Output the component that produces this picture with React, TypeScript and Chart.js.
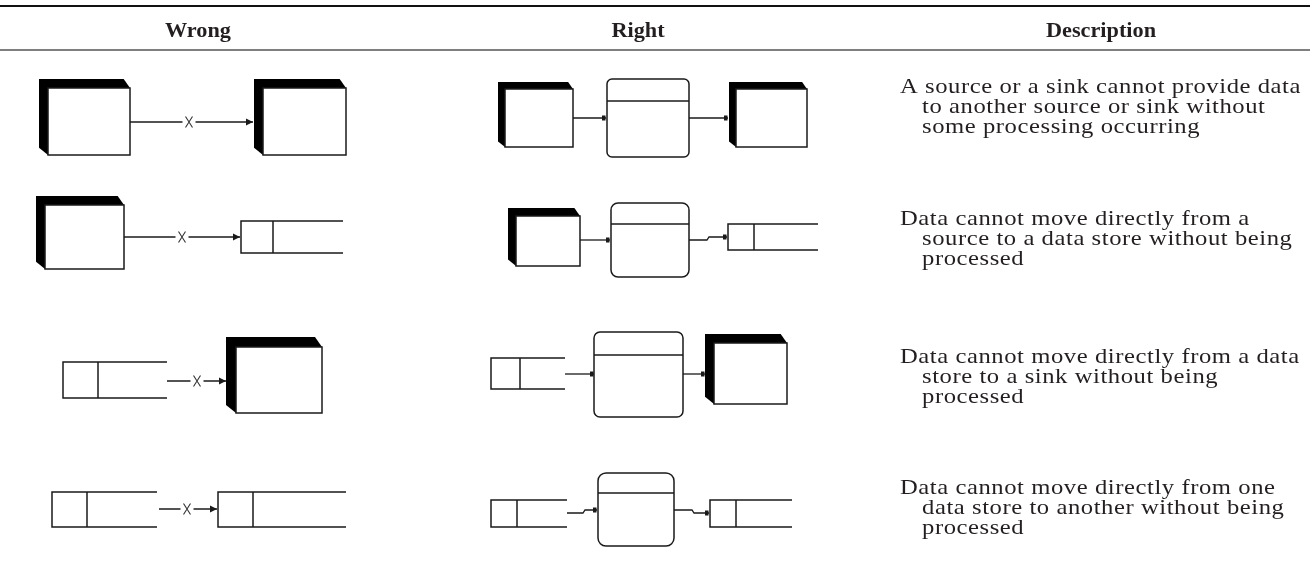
import React, { useEffect, useRef } from 'react';
import { Chart, registerables } from 'chart.js';
Chart.register(...registerables);

const W = 1310;
const H = 571;

// Table header
const columnHeaders = ['Wrong', 'Right', 'Description'];
const headerCentersX = [198, 638, 1101];
const headerBaselineY = 37;
const topRuleY = 6;
const headerRuleY = 50;

// Description column
const descriptionRows = [
  ['A source or a sink cannot provide data', 'to another source or sink without', 'some processing occurring'],
  ['Data cannot move directly from a', 'source to a data store without being', 'processed'],
  ['Data cannot move directly from a data', 'store to a sink without being', 'processed'],
  ['Data cannot move directly from one', 'data store to another without being', 'processed'],
];
const descriptionFirstBaselineY = [93, 225, 363, 494];
const descriptionX = 900;
const descriptionIndentX = 922;
const descriptionLineStep = 19.8;

// Source / sink boxes: [x0, y0, x1, y1, shadow depth]
const entityBoxes = [
  [39, 79, 130, 155, 9], [254, 79, 346, 155, 9], [498, 82, 573, 147, 7], [729, 82, 807, 147, 7],
  [36, 196, 124, 269, 9], [508, 208, 580, 266, 8],
  [226, 337, 322, 413, 10], [705, 334, 787, 404, 9],
];

// Process boxes: [x0, y0, x1, y1, header line y, corner radius]
const processBoxes = [
  [607, 79, 689, 157, 101, 5],
  [611, 203, 689, 277, 224, 7],
  [594, 332, 683, 417, 355, 6],
  [598, 473, 674, 546, 493, 8],
];

// Data stores: [x0, y0, x1, y1, divider x]
const dataStores = [
  [241, 221, 343, 253, 273], [728, 224, 818, 250, 754],
  [63, 362, 167, 398, 98], [491, 358, 565, 389, 520],
  [52, 492, 157, 527, 87], [218, 492, 346, 527, 253],
  [491, 500, 567, 527, 517], [710, 500, 792, 527, 736],
];

// Data flows: polyline points, end marker and (for wrong flows) the cross position
const flowPoints = [
  [[130, 122], [253, 122]],
  [[573, 118], [606, 118]],
  [[689, 118], [728, 118]],
  [[124, 237], [240, 237]],
  [[580, 240], [610, 240]],
  [[689, 240], [707, 240], [709, 237], [727, 237]],
  [[167, 381], [226, 381]],
  [[565, 374], [594, 374]],
  [[683, 374], [705, 374]],
  [[159, 509], [217, 509]],
  [[567, 513], [583, 513], [585, 510], [597, 510]],
  [[674, 510], [692, 510], [694, 513], [709, 513]],
];
const flowEnds = ['arrow', 'dot', 'dot', 'arrow', 'dot', 'dot', 'arrow', 'dot', 'dot', 'arrow', 'dot', 'dot'];
const flowCrossX = [189, null, null, 182, null, null, 197, null, null, 187, null, null];

const INK = '#1a1a1a';
const TEXT = '#231f20';

const diagramPlugin = {
  id: 'dfdTable',
  afterDatasetsDraw(chart: any) {
    const ctx = chart.ctx as CanvasRenderingContext2D;
    const xs = chart.scales.x;
    const ys = chart.scales.y;
    const px = (v: number) => xs.getPixelForValue(v);
    const py = (v: number) => ys.getPixelForValue(v);
    const dx = (v: number) => px(v) - px(0);
    const dy = (v: number) => py(v) - py(0);

    ctx.save();
    // rules
    ctx.strokeStyle = '#111';
    ctx.lineWidth = 2;
    ctx.beginPath();
    ctx.moveTo(px(0), py(topRuleY));
    ctx.lineTo(px(W), py(topRuleY));
    ctx.stroke();
    ctx.strokeStyle = '#555';
    ctx.lineWidth = 1.3;
    ctx.beginPath();
    ctx.moveTo(px(0), py(headerRuleY));
    ctx.lineTo(px(W), py(headerRuleY));
    ctx.stroke();

    // headers
    ctx.fillStyle = TEXT;
    ctx.textAlign = 'left';
    ctx.textBaseline = 'alphabetic';
    ctx.font = 'bold 21px "Liberation Serif", serif';
    (ctx as any).letterSpacing = '0px';
    columnHeaders.forEach((h, i) => {
      const sx = 1.06;
      const w = ctx.measureText(h).width * sx;
      ctx.save();
      ctx.translate(px(headerCentersX[i]) - w / 2, py(headerBaselineY));
      ctx.scale(sx, 1);
      ctx.fillText(h, 0, 0);
      ctx.restore();
    });

    // descriptions
    ctx.font = '22px "Liberation Serif", serif';
    (ctx as any).letterSpacing = '0.5px';
    descriptionRows.forEach((lines, r) => {
      lines.forEach((line, j) => {
        ctx.save();
        ctx.translate(px(j === 0 ? descriptionX : descriptionIndentX), py(descriptionFirstBaselineY[r] + j * descriptionLineStep));
        ctx.scale(1.12, 1);
        ctx.fillText(line, 0, 0);
        ctx.restore();
      });
    });
    (ctx as any).letterSpacing = '0px';

    // cross marks and end markers on flows
    flowPoints.forEach((pts, i) => {
      const last = pts[pts.length - 1];
      const ex = px(last[0]);
      const ey = py(last[1]);
      ctx.fillStyle = INK;
      if (flowEnds[i] === 'arrow') {
        ctx.beginPath();
        ctx.moveTo(ex - 7, ey - 3.5);
        ctx.lineTo(ex, ey);
        ctx.lineTo(ex - 7, ey + 3.5);
        ctx.closePath();
        ctx.fill();
      } else {
        ctx.fillRect(ex - 4, ey - 2.5, 3.5, 5);
      }
      const cx = flowCrossX[i];
      if (cx != null) {
        const cxp = px(cx);
        const cyp = py(pts[0][1]);
        ctx.fillStyle = '#fff';
        ctx.fillRect(cxp - 6.5, cyp - 2, 13, 4);
        ctx.strokeStyle = '#333';
        ctx.lineWidth = 1.1;
        ctx.beginPath();
        ctx.moveTo(cxp - 3.5, cyp - 5.5);
        ctx.lineTo(cxp + 3.5, cyp + 5.5);
        ctx.moveTo(cxp + 3.5, cyp - 5.5);
        ctx.lineTo(cxp - 3.5, cyp + 5.5);
        ctx.stroke();
      }
    });

    // source / sink boxes
    entityBoxes.forEach(([x0, y0, x1, y1, d]) => {
      const X0 = px(x0), Y0 = py(y0), X1 = px(x1), Y1 = py(y1);
      const D = dx(d), DY = dy(d);
      ctx.fillStyle = '#000';
      ctx.beginPath();
      ctx.moveTo(X0, Y0);
      ctx.lineTo(X1 - D * 0.7, Y0);
      ctx.lineTo(X1, Y0 + DY);
      ctx.lineTo(X1, Y1);
      ctx.lineTo(X0 + D, Y1);
      ctx.lineTo(X0, Y1 - DY * 0.8);
      ctx.closePath();
      ctx.fill();
      ctx.fillStyle = '#fff';
      ctx.fillRect(X0 + D, Y0 + DY, X1 - X0 - D, Y1 - Y0 - DY);
      ctx.strokeStyle = INK;
      ctx.lineWidth = 1.5;
      ctx.strokeRect(X0 + D, Y0 + DY, X1 - X0 - D, Y1 - Y0 - DY);
    });

    // process boxes
    processBoxes.forEach(([x0, y0, x1, y1, hy, rad]) => {
      const X0 = px(x0), Y0 = py(y0), X1 = px(x1), Y1 = py(y1);
      ctx.fillStyle = '#fff';
      ctx.strokeStyle = INK;
      ctx.lineWidth = 1.5;
      ctx.beginPath();
      ctx.roundRect(X0, Y0, X1 - X0, Y1 - Y0, dx(rad));
      ctx.fill();
      ctx.stroke();
      ctx.beginPath();
      ctx.moveTo(X0, py(hy));
      ctx.lineTo(X1, py(hy));
      ctx.stroke();
    });

    // data stores
    dataStores.forEach(([x0, y0, x1, y1, xd]) => {
      const X0 = px(x0), Y0 = py(y0), X1 = px(x1), Y1 = py(y1), XD = px(xd);
      ctx.strokeStyle = INK;
      ctx.lineWidth = 1.5;
      ctx.beginPath();
      ctx.moveTo(X1, Y0);
      ctx.lineTo(X0, Y0);
      ctx.lineTo(X0, Y1);
      ctx.lineTo(X1, Y1);
      ctx.moveTo(XD, Y0);
      ctx.lineTo(XD, Y1);
      ctx.stroke();
    });
    ctx.restore();
  },
};

export default function App() {
  const ref = useRef<HTMLCanvasElement | null>(null);
  useEffect(() => {
    if (!ref.current) return;
    const chart = new Chart(ref.current, {
      type: 'scatter',
      data: {
        datasets: flowPoints.map((pts) => ({
          data: pts.map(([x, y]) => ({ x, y })),
          showLine: true,
          borderColor: INK,
          borderWidth: 1.3,
          pointRadius: 0,
          fill: false,
          tension: 0,
        })),
      },
      options: {
        responsive: false,
        animation: false,
        events: [],
        layout: { padding: 0 },
        plugins: { legend: { display: false }, tooltip: { enabled: false } },
        scales: {
          x: { type: 'linear', min: 0, max: W, display: false },
          y: { type: 'linear', min: 0, max: H, reverse: true, display: false },
        },
      },
      plugins: [diagramPlugin],
    });
    return () => chart.destroy();
  }, []);
  return (
    <div style={{ position: 'absolute', left: 0, top: 0, width: W, height: H, background: '#fff' }}>
      <canvas ref={ref} width={W} height={H} style={{ display: 'block' }} />
    </div>
  );
}
